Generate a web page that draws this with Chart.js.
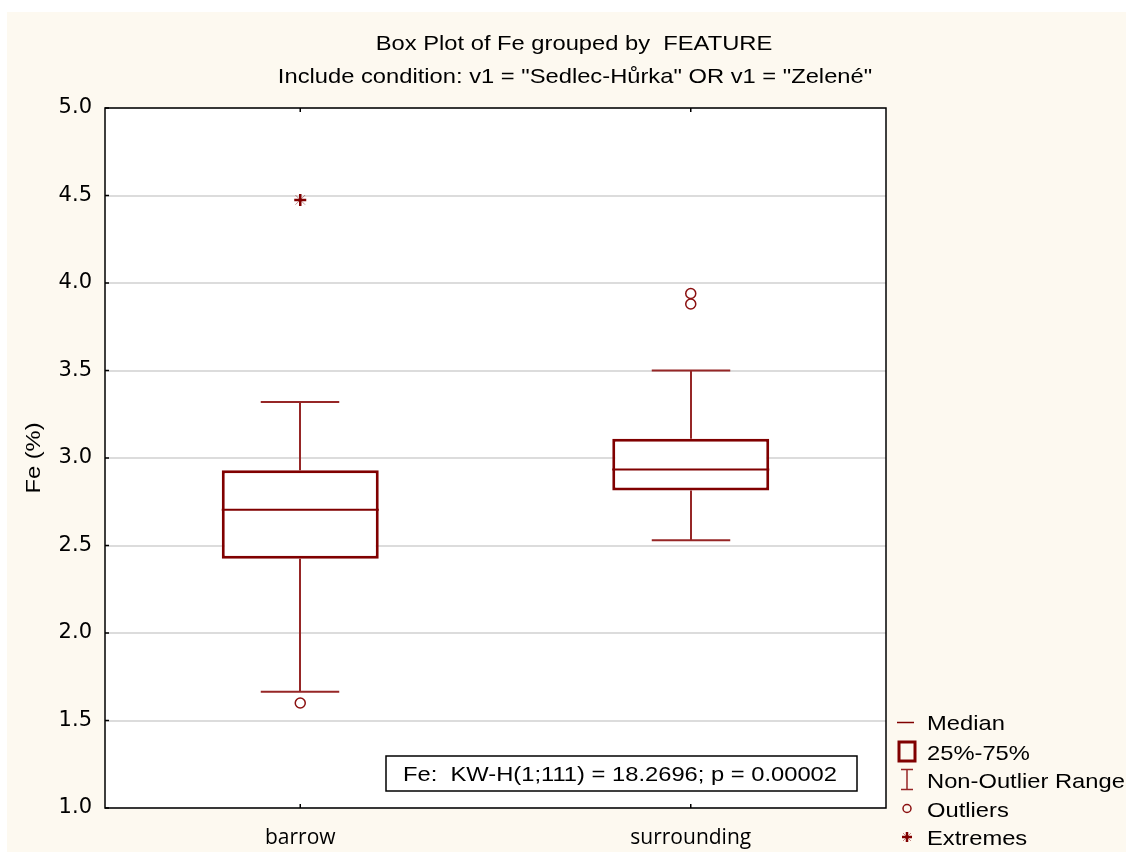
<!DOCTYPE html>
<html>
<head>
<meta charset="utf-8">
<title>Box Plot of Fe grouped by FEATURE</title>
<script src="https://cdn.jsdelivr.net/npm/chart.js@4.4.1/dist/chart.umd.min.js"></script>
<style>
  html, body { margin: 0; padding: 0; background: #ffffff; }
  canvas { display: block; }
</style>
</head>
<body>
<canvas id="chart" width="1126" height="853"></canvas>
<script>
// ---- data ----
const categories = ['barrow', 'surrounding'];
const q1Values = [2.425, 2.815];
const q3Values = [2.93, 3.11];
const medianValues = [2.705, 2.935];
const whiskerLow = [1.665, 2.53];
const whiskerHigh = [3.32, 3.50];
const outlierPoints = [
  { x: 'barrow', y: 1.60 },
  { x: 'surrounding', y: 3.88 },
  { x: 'surrounding', y: 3.94 }
];
const extremePoints = [
  { x: 'barrow', y: 4.475 }
];
const yTickValues = [1.0, 1.5, 2.0, 2.5, 3.0, 3.5, 4.0, 4.5, 5.0];
const titleLines = [
  'Box Plot of Fe grouped by  FEATURE',
  'Include condition: v1 = "Sedlec-Hůrka" OR v1 = "Zelené"'
];
const yAxisTitle = 'Fe (%)';
const testLabel = 'Fe:  KW-H(1;111) = 18.2696; p = 0.00002';
const legendLabels = ['Median', '25%-75%', 'Non-Outlier Range', 'Outliers', 'Extremes'];

// ---- styling ----
const BOX_RED = '#800000';
const WHISKER_RED = '#962626';
const POINT_RED = '#8b1010';
const CREAM = '#fdf9f0';
const LABEL_FONT = '21px "Liberation Sans", Arial, sans-serif';
const TICK_FONT = '"DejaVu Sans", "Liberation Sans", sans-serif';
const TEXT_STRETCH = 1.13; // labels are drawn slightly widened

function drawLabel(ctx, text, x, y, align) {
  ctx.save();
  ctx.translate(x, y);
  ctx.scale(TEXT_STRETCH, 1);
  ctx.font = LABEL_FONT;
  ctx.fillStyle = '#000000';
  ctx.textAlign = align;
  ctx.textBaseline = 'alphabetic';
  ctx.fillText(text, 0, 0);
  ctx.restore();
}

function drawStar(ctx, x, y, r) {
  ctx.save();
  ctx.strokeStyle = 'rgba(128,0,0,0.45)';
  ctx.lineWidth = 1;
  ctx.beginPath();
  ctx.moveTo(x - r * 0.8, y - r * 0.8); ctx.lineTo(x + r * 0.8, y + r * 0.8);
  ctx.moveTo(x - r * 0.8, y + r * 0.8); ctx.lineTo(x + r * 0.8, y - r * 0.8);
  ctx.stroke();
  ctx.strokeStyle = BOX_RED;
  ctx.lineWidth = 2.5;
  ctx.beginPath();
  ctx.moveTo(x - r, y); ctx.lineTo(x + r, y);
  ctx.moveTo(x, y - r); ctx.lineTo(x, y + r);
  ctx.stroke();
  ctx.restore();
}

const boxPlotParts = {
  id: 'boxPlotParts',
  beforeDraw(chart) {
    const { ctx, chartArea: a } = chart;
    ctx.save();
    ctx.fillStyle = CREAM;
    ctx.fillRect(7, 12, chart.width - 7, chart.height - 13);
    ctx.fillStyle = '#ffffff';
    ctx.fillRect(a.left, a.top, a.right - a.left, a.bottom - a.top);
    ctx.restore();
  },
  beforeDatasetsDraw(chart) {
    // whiskers (non-outlier range)
    const { ctx } = chart;
    const xs = chart.scales.x, ys = chart.scales.y;
    const bars = chart.getDatasetMeta(0).data;
    ctx.save();
    ctx.strokeStyle = WHISKER_RED;
    ctx.lineWidth = 2;
    categories.forEach((c, i) => {
      const x = Math.round(xs.getPixelForValue(i));
      const half = bars[i].width / 4;
      const yHi = ys.getPixelForValue(whiskerHigh[i]);
      const yLo = ys.getPixelForValue(whiskerLow[i]);
      const yQ3 = ys.getPixelForValue(q3Values[i]);
      const yQ1 = ys.getPixelForValue(q1Values[i]);
      ctx.beginPath();
      ctx.moveTo(x, yHi); ctx.lineTo(x, yQ3);
      ctx.moveTo(x, yQ1); ctx.lineTo(x, yLo);
      ctx.moveTo(x - half, yHi); ctx.lineTo(x + half, yHi);
      ctx.moveTo(x - half, yLo); ctx.lineTo(x + half, yLo);
      ctx.stroke();
    });
    ctx.restore();
  },
  afterDatasetsDraw(chart) {
    const { ctx, chartArea: a } = chart;
    const xs = chart.scales.x, ys = chart.scales.y;
    const bars = chart.getDatasetMeta(0).data;
    ctx.save();
    // medians
    ctx.strokeStyle = BOX_RED;
    ctx.lineWidth = 2;
    categories.forEach((c, i) => {
      const x = xs.getPixelForValue(i);
      const half = bars[i].width / 2;
      const y = ys.getPixelForValue(medianValues[i]);
      ctx.beginPath();
      ctx.moveTo(x - half, y); ctx.lineTo(x + half, y);
      ctx.stroke();
    });
    // extremes
    extremePoints.forEach(p => {
      drawStar(ctx, xs.getPixelForValue(categories.indexOf(p.x)), ys.getPixelForValue(p.y), 6);
    });
    // frame and inward tick marks
    ctx.strokeStyle = '#000000';
    ctx.lineWidth = 1.5;
    ctx.strokeRect(a.left, a.top, a.right - a.left, a.bottom - a.top);
    ctx.beginPath();
    yTickValues.forEach(v => {
      const y = ys.getPixelForValue(v);
      ctx.moveTo(a.left, y); ctx.lineTo(a.left + 4, y);
    });
    categories.forEach((c, i) => {
      const x = xs.getPixelForValue(i);
      ctx.moveTo(x, a.bottom); ctx.lineTo(x, a.bottom - 4);
      ctx.moveTo(x, a.top); ctx.lineTo(x, a.top + 4);
    });
    ctx.stroke();
    ctx.restore();
  },
  afterDraw(chart) {
    const { ctx, chartArea: a } = chart;
    ctx.save();
    // title
    drawLabel(ctx, titleLines[0], 574, 50, 'center');
    drawLabel(ctx, titleLines[1], 575, 83, 'center');

    // y axis title
    ctx.save();
    ctx.translate(40, (a.top + a.bottom) / 2);
    ctx.rotate(-Math.PI / 2);
    drawLabel(ctx, yAxisTitle, 0, 0, 'center');
    ctx.restore();

    // test statistic box
    ctx.fillStyle = '#ffffff';
    ctx.fillRect(386, 756, 471, 35);
    ctx.strokeStyle = '#000000';
    ctx.lineWidth = 1.5;
    ctx.strokeRect(386, 756, 471, 35);
    drawLabel(ctx, testLabel, 620, 781, 'center');

    // legend
    const lx = 907;
    const baselines = [730, 759.5, 788, 816.5, 845];
    legendLabels.forEach((t, i) => drawLabel(ctx, t, 927, baselines[i], 'left'));
    // median symbol
    ctx.strokeStyle = BOX_RED;
    ctx.lineWidth = 1.5;
    ctx.beginPath(); ctx.moveTo(897, 722.5); ctx.lineTo(914, 722.5); ctx.stroke();
    // box symbol
    ctx.lineWidth = 3;
    ctx.strokeRect(899, 742, 16, 19);
    // whisker symbol
    ctx.strokeStyle = WHISKER_RED;
    ctx.lineWidth = 1.5;
    ctx.beginPath();
    ctx.moveTo(lx, 769.5); ctx.lineTo(lx, 789.5);
    ctx.moveTo(lx - 6, 769.5); ctx.lineTo(lx + 6, 769.5);
    ctx.moveTo(lx - 6, 789.5); ctx.lineTo(lx + 6, 789.5);
    ctx.stroke();
    // outlier symbol
    ctx.strokeStyle = POINT_RED;
    ctx.beginPath(); ctx.arc(lx, 808.5, 4, 0, Math.PI * 2); ctx.stroke();
    // extreme symbol
    drawStar(ctx, lx, 837, 5);
    ctx.restore();
  }
};

new Chart(document.getElementById('chart'), {
  type: 'bar',
  data: {
    labels: categories,
    datasets: [
      {
        label: '25%-75%',
        data: categories.map((c, i) => [q1Values[i], q3Values[i]]),
        backgroundColor: '#ffffff',
        borderColor: BOX_RED,
        borderWidth: 3,
        borderSkipped: false,
        barPercentage: 0.402,
        categoryPercentage: 1.0
      },
      {
        type: 'line',
        label: 'Outliers',
        data: outlierPoints,
        showLine: false,
        pointStyle: 'circle',
        pointRadius: 5,
        pointBorderWidth: 1.5,
        pointBorderColor: POINT_RED,
        pointBackgroundColor: '#ffffff'
      }
    ]
  },
  options: {
    responsive: false,
    animation: false,
    devicePixelRatio: 1,
    layout: { padding: { left: 7, top: 108, right: 240, bottom: 0 } },
    plugins: {
      legend: { display: false },
      title: { display: false },
      tooltip: { enabled: false }
    },
    scales: {
      x: {
        type: 'category',
        offset: true,
        grid: { display: false, drawTicks: false, offset: false },
        border: { display: false },
        ticks: {
          color: '#000000',
          padding: 17,
          font: { family: '"Open Sans", sans-serif', size: 21 }
        },
        afterFit(scale) { scale.height = 45; }
      },
      y: {
        min: 1,
        max: 5,
        afterBuildTicks(scale) { scale.ticks = yTickValues.map(v => ({ value: v })); },
        grid: { color: '#dcdcdc', lineWidth: 2, drawTicks: false },
        border: { display: false },
        ticks: {
          color: '#000000',
          padding: 13,
          font: { family: TICK_FONT, size: 21 },
          callback: v => Number(v).toFixed(1)
        },
        afterFit(scale) { scale.width = 98; }
      }
    }
  },
  plugins: [boxPlotParts]
});
</script>
</body>
</html>
